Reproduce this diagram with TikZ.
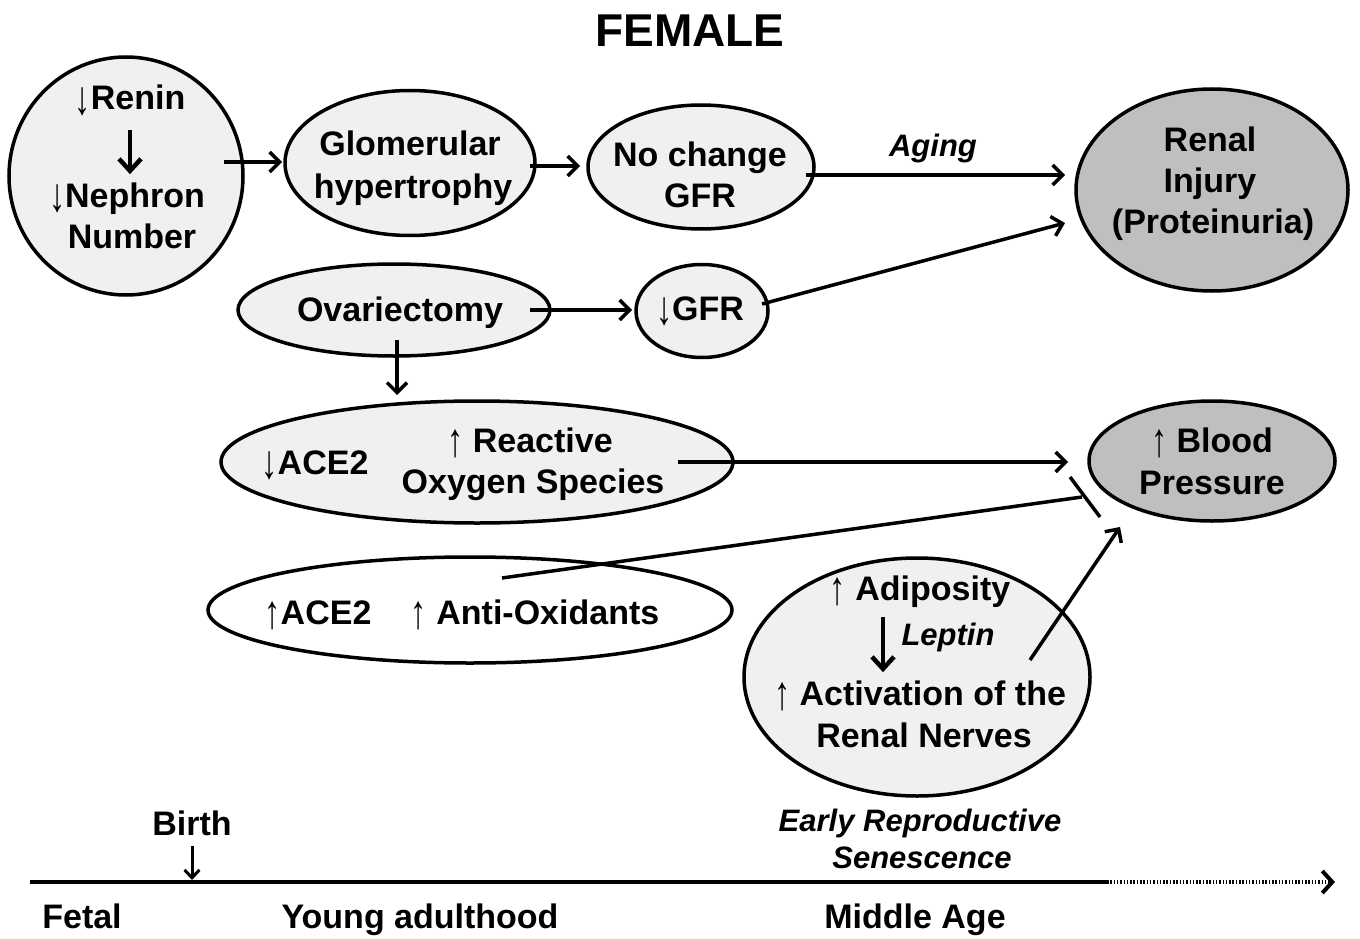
\documentclass[tikz,border=0pt]{standalone}
\usepackage{fontspec}
\setmainfont{Liberation Sans}
\usetikzlibrary{arrows.meta,calc,shapes.geometric}
\definecolor{lightfill}{RGB}{240,240,240}
\definecolor{darkfill}{RGB}{191,191,191}
\newcommand\myDn{{\mdseries\raisebox{-0.14em}{\scalebox{0.95}[1.4]{↓}}}}
\newcommand\myUp{{\mdseries\raisebox{-0.14em}{\scalebox{0.95}[1.4]{↑}}}}
\tikzset{
  bub/.style={draw, line width=3.5pt, ellipse, inner sep=0pt, fill=lightfill},
  hub/.style={bub, fill=darkfill},
  wbub/.style={bub, fill=white},
  txt/.style={font=\fontsize{34}{41}\selectfont\bfseries, inner sep=0pt, anchor=base},
  itxt/.style={font=\fontsize{31}{37}\selectfont\bfseries\itshape, inner sep=0pt, anchor=base},
  arr/.style={line width=3.5pt, -{Straight Barb[length=10pt,width=20pt]}},
  thickarr/.style={line width=4.5pt, -{Straight Barb[length=12pt,width=22pt]}},
  thinarr/.style={line width=3pt, -{Straight Barb[length=8pt,width=15pt]}},
  inhib/.style={line width=3.5pt},
}
\begin{document}
\begin{tikzpicture}[x=1pt,y=-1pt]
\fill[white] (0,0) rectangle (1360,939);
\useasboundingbox (0,0) rectangle (1360,939);

% title
\node[font=\fontsize{46}{50}\selectfont\bfseries, inner sep=0pt] (title) at (690,31) {FEMALE};

% ellipses
\node[bub, minimum width=234, minimum height=238] (renin) at (126,176) {};
\node[bub, minimum width=250, minimum height=145] (glom) at (410,163) {};
\node[bub, minimum width=226, minimum height=124] (nochg) at (701,167) {};
\node[hub, minimum width=272, minimum height=202] (renal) at (1212,190) {};
\node[bub, minimum width=312, minimum height=92] (ovar) at (394,310) {};
\node[bub, minimum width=132, minimum height=93] (dgfr) at (702,311) {};
\node[bub, minimum width=512, minimum height=122] (ros) at (477,462) {};
\node[hub, minimum width=246, minimum height=120] (bp) at (1212,461) {};
\node[wbub, minimum width=524, minimum height=106] (anti) at (470,610) {};
\node[bub, minimum width=346, minimum height=238] (adip) at (917,677) {};

% texts
\node[txt] (t1) at (130,110) {\myDn Renin};
\node[txt] (t2) at (127,207) {\myDn Nephron};
\node[txt] (t3) at (132,248) {Number};
\node[txt] (t4) at (410,156) {Glomerular};
\node[txt] (t5) at (413,198) {hypertrophy};
\node[txt] (t6) at (700,166) {No change};
\node[txt] (t7) at (700,207) {GFR};
\node[itxt] (t8) at (933,157) {Aging};
\node[txt] (t9) at (1210,152) {Renal};
\node[txt] (t10) at (1210,193) {Injury};
\node[txt] (t11) at (1213,233) {(Proteinuria)};
\node[txt] (t12) at (400,321) {Ovariectomy};
\node[txt] (t13) at (700,320) {\myDn GFR};
\node[txt] (t14) at (315,474) {\myDn ACE2};
\node[txt] (t15) at (530,452) {\myUp\ Reactive};
\node[txt] (t16) at (533,493) {Oxygen Species};
\node[txt] (t17) at (1212,452) {\myUp\ Blood};
\node[txt] (t18) at (1212,494) {Pressure};
\node[txt] (t19) at (318,624) {\myUp ACE2};
\node[txt] (t20) at (535,624) {\myUp\ Anti-Oxidants};
\node[txt] (t21) at (920,600) {\myUp\ Adiposity};
\node[itxt] (t22) at (948,645) {Leptin};
\node[txt] (t23) at (920,705) {\myUp\ Activation of the};
\node[txt] (t24) at (924,747) {Renal Nerves};
\node[txt] (t25) at (192,835) {Birth};
\node[itxt] (t26) at (920,831) {Early Reproductive};
\node[itxt] (t27) at (922,868) {Senescence};
\node[txt] (t28) at (82,928) {Fetal};
\node[txt] (t29) at (420,928) {Young adulthood};
\node[txt] (t30) at (915,928) {Middle Age};

% inner arrows
\draw[thickarr] ($(t1.south)+(0,14)$) -- ($(t2.north)+(3,-8)$);
\draw[thickarr] ($(t21.south)+(-37,10)$) -- ($(t23.north)+(-37,-8)$);

% connectors
\draw[arr] ($(renin)+(98,-14)$) -- ($(glom)+(-128,-1)$);
\draw[arr] ($(glom)+(120,3)$) -- ($(nochg)+(-121,-1)$);
\draw[arr] ($(nochg)+(105,8)$) -- ($(renal)+(-147,-15)$);
\draw[arr] ($(ovar)+(136,0)$) -- ($(dgfr)+(-70,-1)$);
\draw[arr] ($(dgfr)+(60,-7)$) -- ($(renal)+(-147,33)$);
\draw[arr] ($(ovar)+(3,30)$) -- ($(ros)+(-80,-67)$);
\draw[arr] ($(ros)+(201,0)$) -- ($(bp)+(-144,1)$);
\coordinate (inh) at ($(bp)+(-130,36)$);
\draw[inhib] ($(anti)+(32,-32)$) -- (inh);
\draw[inhib] ($(inh)+(-12,-20)$) -- ($(inh)+(18,20)$);
\draw[arr] ($(adip)+(113,-17)$) -- ($(bp)+(-92,66)$);

% timeline
\coordinate (tl0) at (30,882);
\coordinate (tl1) at (1107,882);
\coordinate (tl2) at (1335,882);
\draw[line width=4.5pt] (tl0) -- (tl1);
\draw[line width=4pt, dash pattern=on 1.5pt off 1.8pt, -{Straight Barb[length=10pt,width=22pt]}] (tl1) -- (tl2);
\draw[thinarr] ($(t25.south)+(0,10)$) -- (192,880);
\end{tikzpicture}
\end{document}
